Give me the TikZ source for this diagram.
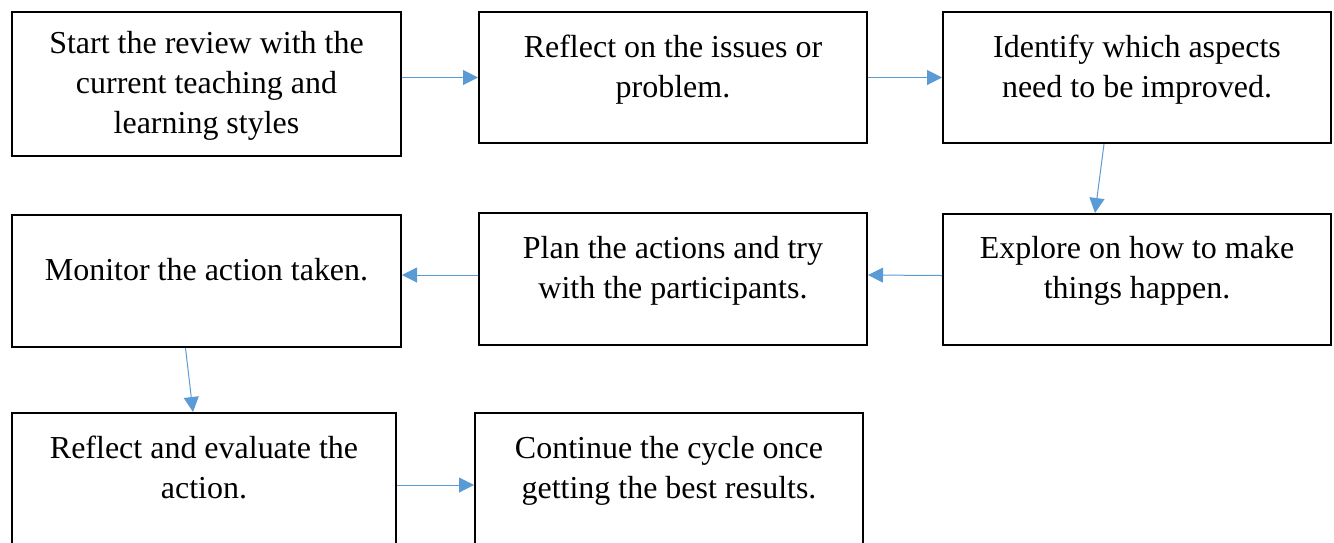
\documentclass[tikz,border=0pt]{standalone}
\usepackage{fontspec}
\setmainfont{Liberation Serif}
\usetikzlibrary{arrows.meta,fit,calc}
\definecolor{flowblue}{RGB}{91,155,213}
\tikzset{
  stepbox/.style={draw=black,line width=0.04cm,inner sep=0pt},
  steptext/.style={anchor=north,align=center,inner sep=0pt,
                   font=\fontsize{18.2}{22.8}\selectfont},
  flow/.style={draw=flowblue,line width=0.02cm,
               -{Triangle[length=0.3cm,width=0.3cm]}}
}
% name, left, top, right, bottom, text top, text
\newcommand{\stepnode}[7]{%
  \node[stepbox,fit={(#2,#3) (#4,#5)}] (#1) {};
  \node[steptext] (#1-t) at ({(#2+#4)/2},#6) {#7};
}

\begin{document}
\begin{tikzpicture}[x=0.02cm,y=-0.02cm]
  \useasboundingbox (0,0) rectangle (1334,542);
  \clip (0,0) rectangle (1334,542);
  % --- Ligne 1 ---
  \stepnode{start}{12}{12}{401}{156}{31}{Start the review with the\\current teaching and\\learning styles}
  \stepnode{reflect}{479}{12}{867}{143}{35}{Reflect on the issues or\\problem.}
  \stepnode{identify}{943}{12}{1331}{143}{35}{Identify which aspects\\need to be improved.}
  % --- Ligne 2 ---
  \stepnode{monitor}{12}{215}{401}{347}{258}{Monitor the action taken.}
  \stepnode{plan}{479}{213}{867}{345}{236}{Plan the actions and try\\with the participants.}
  \stepnode{explore}{943}{214}{1331}{345}{236}{Explore on how to make\\things happen.}
  % --- Ligne 3 (coupée en bas) ---
  \stepnode{evaluate}{12}{413}{396}{557}{436}{Reflect and evaluate the\\action.}
  \stepnode{continue}{475}{413}{863}{557}{436}{Continue the cycle once\\getting the best results.}
  % --- Flèches ---
  \draw[flow] (start.east |- reflect.west) -- (reflect.west);
  \draw[flow] (reflect.east) -- (identify.west);
  \draw[flow] ($(identify.south)+(-33,0)$) -- ($(explore.north)+(-42,0)$);
  \draw[flow] ($(explore.west)+(0,-4)$) -- ($(plan.east)+(0,-4)$);
  \draw[flow] ($(plan.west)+(0,-4)$) -- ($(monitor.east)+(0,-6)$);
  \draw[flow] ($(monitor.south)+(-21,0)$) -- ($(evaluate.north)+(-11,0)$);
  \draw[flow] (evaluate.east) -- (continue.west);
\end{tikzpicture}
\end{document}
